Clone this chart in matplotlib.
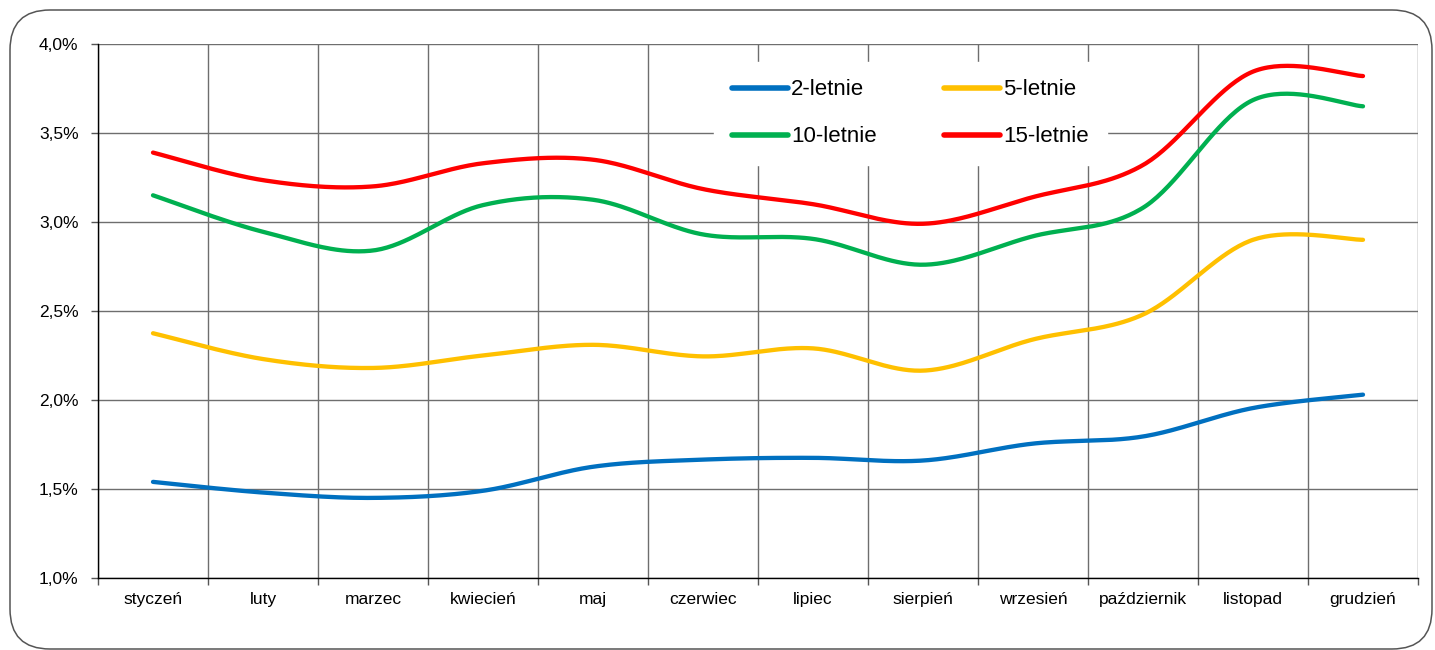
import numpy as np
import matplotlib
matplotlib.use("Agg")
import matplotlib.pyplot as plt
import matplotlib.patches as mpatches
from matplotlib.ticker import FixedLocator, FuncFormatter

plt.rcParams['font.family'] = ['Liberation Sans', 'DejaVu Sans']

months = ['styczeń', 'luty', 'marzec', 'kwiecień', 'maj', 'czerwiec', 'lipiec',
          'sierpień', 'wrzesień', 'październik', 'listopad', 'grudzień']
y_2 = [1.54, 1.48, 1.45, 1.49, 1.625, 1.665, 1.675, 1.66, 1.755, 1.795, 1.955, 2.03]
y_5 = [2.375, 2.23, 2.18, 2.25, 2.31, 2.245, 2.29, 2.165, 2.34, 2.48, 2.90, 2.90]
y_10 = [3.15, 2.945, 2.84, 3.095, 3.125, 2.93, 2.905, 2.76, 2.92, 3.08, 3.685, 3.65]
y_15 = [3.39, 3.235, 3.20, 3.33, 3.35, 3.185, 3.10, 2.99, 3.14, 3.32, 3.845, 3.82]
labels = ['2-letnie', '5-letnie', '10-letnie', '15-letnie']
colors = ['#0070C0', '#FFC000', '#00B050', '#FF0000']


def smooth(x, y, n=40):
    pts = np.column_stack([x, y]).astype(float)
    P = np.vstack([pts[0], pts, pts[-1]])
    out = []
    t = np.linspace(0, 1, n)[:, None]
    for i in range(len(pts) - 1):
        p0, p1, p2, p3 = P[i], P[i + 1], P[i + 2], P[i + 3]
        c1 = p1 + (p2 - p0) / 6.0
        c2 = p2 - (p3 - p1) / 6.0
        seg = (1 - t) ** 3 * p1 + 3 * (1 - t) ** 2 * t * c1 + 3 * (1 - t) * t ** 2 * c2 + t ** 3 * p2
        out.append(seg if i == 0 else seg[1:])
    s = np.vstack(out)
    return s[:, 0], s[:, 1]


W, H = 1435, 650
fig = plt.figure(figsize=(W / 100, H / 100), dpi=100)
ax = fig.add_axes([98 / W, 1 - 578 / H, 1320 / W, 534 / H])

x = np.arange(len(months))
handles = []
for ys, lab, c in zip([y_2, y_5, y_10, y_15], labels, colors):
    sx, sy = smooth(x, ys)
    h, = ax.plot(sx, sy, color=c, lw=3.1, solid_capstyle='round', label=lab, zorder=3)
    handles.append(h)

ax.set_xlim(-0.5, len(months) - 0.5)
ax.set_ylim(1.0, 4.0)

# grid
ax.xaxis.set_major_locator(FixedLocator(np.arange(-0.5, len(months), 1.0)))
ax.xaxis.set_minor_locator(FixedLocator(x))
ax.set_xticklabels([], minor=False)
ax.set_xticklabels(months, minor=True)
ax.tick_params(axis='x', which='major', length=5, width=1, color='#555555', direction='out')
ax.tick_params(axis='x', which='minor', length=0, pad=10, labelsize=12.5)
ax.set_yticks(np.arange(1.0, 4.01, 0.5))
ax.yaxis.set_major_formatter(FuncFormatter(lambda v, p: f"{v:.1f}%".replace('.', ',')))
ax.tick_params(axis='y', length=5, width=1, color='#555555', pad=9, labelsize=12.5)
ax.grid(True, which='major', color='#6e6e6e', lw=1.0, zorder=1)

for s in ['top', 'right']:
    ax.spines[s].set_visible(False)
ax.spines['left'].set_color('black')
ax.spines['bottom'].set_color('black')
ax.spines['left'].set_linewidth(1.0)
ax.spines['bottom'].set_linewidth(1.0)

order = [0, 2, 1, 3]
leg = ax.legend([handles[i] for i in order], [labels[i] for i in order],
                ncol=2, loc='center', bbox_to_anchor=(0.6155, 0.870), fontsize=16,
                frameon=True, facecolor='white', edgecolor='white', framealpha=1.0,
                fancybox=False, handlelength=2.5, handletextpad=0.15,
                columnspacing=3.05, labelspacing=1.17, borderpad=0.8, borderaxespad=0)
for line in leg.get_lines():
    line.set_linewidth(4.0)
leg.set_zorder(5)

border = mpatches.FancyBboxPatch((10, 1), 1422, 639,
                                 boxstyle="round,pad=0,rounding_size=40",
                                 transform=None, facecolor='none',
                                 edgecolor='#555555', lw=1.1)
fig.add_artist(border)

fig.savefig('out.png', dpi=100)
